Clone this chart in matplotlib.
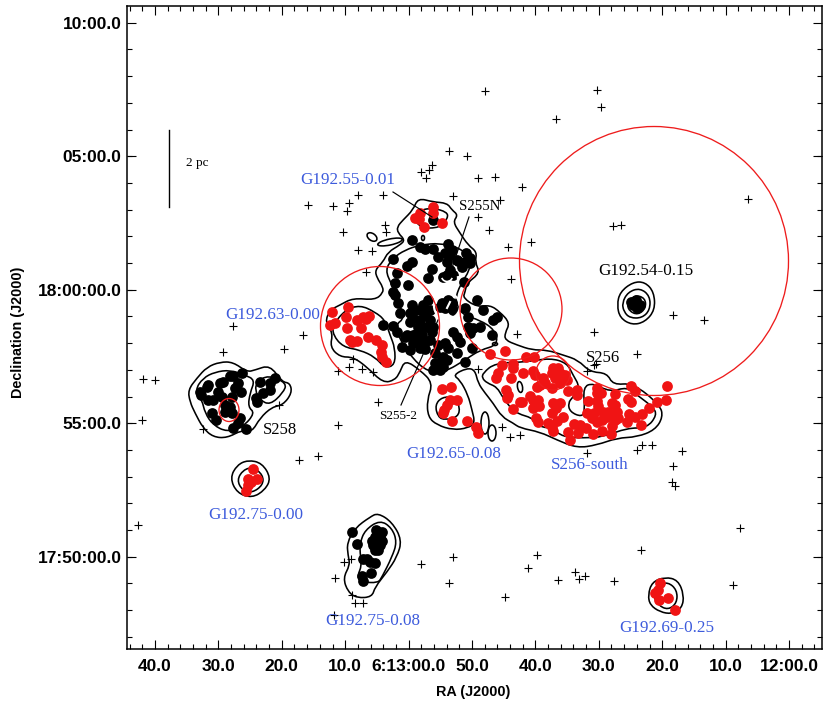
import numpy as np
import matplotlib
matplotlib.use("Agg")
import matplotlib.pyplot as plt
from matplotlib.patches import Circle, Ellipse, Arc, PathPatch
from matplotlib.path import Path

# Positions are map coordinates (image columns / rows of the sky map).
ra_tick_pos = [155, 218.4, 281.8, 345.2, 408.6, 472, 535.4, 598.8, 662.2, 725.6, 789]
ra_tick_labels = ["40.0", "30.0", "20.0", "10.0", "6:13:00.0", "50.0", "40.0", "30.0", "20.0", "10.0", "12:00.0"]
dec_tick_pos = [22.7, 156, 289.5, 423, 556.5]
dec_tick_labels = ["10:00.0", "05:00.0", "18:00:00.0", "55:00.0", "17:50:00.0"]

black_central = [(412,240),(420,247),(425,249),(433,249),(448,244),(438,257),(450,255),(447,262),(466,253),(458,261),
 (470,263),(462,267),(412,262),(407,266),(393,259),(397,273),(432,269),(428,278),(408,285),(395,283),(393,292),(395,295),
 (412,305),(398,303),(410,313),(400,313),(410,322),(420,310),(425,315),(420,320),(430,320),(427,327),(418,327),(417,333),
 (422,335),(413,343),(418,340),(407,335),(393,326),(397,332),(405,337),(383,325),(402,347),(425,349),(433,327),(477,300),
 (483,310),(465,308),(468,317),(497,317),(493,320),(492,335),(480,327),(473,328),(468,327),(470,333),(453,332),(457,337),
 (460,342),(445,343),(448,348),(438,345),(435,353),(443,357),(457,353),(435,363),(443,367),(433,370),(465,362),(472,348),
 (450,270),(447,275),(443,277),(453,275),(442,303),(445,308),(452,303),(440,307),(453,310),(448,300),(464,282),(428,300),
 (433,220),(415,310),(423,305),(430,310),(413,318),(423,327),(432,332),(413,335),(425,342),(430,340),(420,348),(410,350),
 (440,362),(447,360),(440,370),(445,253),(452,250),(457,260),(465,262),(470,258)]
black_s258 = [(200,392),(201,395),(208,385),(207,387),(208,400),(213,400),(220,383),(223,382),(218,392),(222,397),(230,376),
 (233,376),(242,373),(238,383),(235,388),(241,392),(232,397),(225,405),(230,407),(225,412),(232,413),(212,413),(216,420),
 (240,418),(238,423),(233,428),(246,429),(256,398),(257,402),(260,382),(263,393),(270,390),(270,383),(275,378)]
black_g19275_008 = [(352,532),(357,544),(378,532),(380,537),(375,537),(372,541),(380,545),(375,550),(378,550),(367,559),
 (375,563),(371,573),(362,576),(363,581),(382,532),(373,545),(382,541),(376,530),(363,559),(370,562)]
black_g19254 = [(636,300),(640,305),(633,305),(637,308),(631,302)]

red_s256 = [(490,354),(505,351),(526,357),(534,357),(502,365),(513,364),(513,368),(498,373),(496,378),(511,378),(523,373),
 (533,371),(535,375),(553,368),(558,368),(552,373),(560,373),(565,375),(555,378),(567,380),(543,378),(545,383),(540,385),
 (537,387),(552,388),(560,383),(568,391),(577,390),(577,395),(506,390),(508,395),(507,398),(530,396),(533,400),(538,400),
 (522,402),(520,402),(513,409),(533,408),(539,406),(553,403),(560,403),(556,408),(552,413),(536,418),(538,422),(548,423),
 (557,421),(563,417),(552,427),(553,431),(568,432),(574,424),(580,425),(578,433),(586,428),(593,434),(602,431),(611,434),
 (570,440),(588,401),(597,401),(597,388),(597,393),(601,393),(587,413),(594,413),(598,406),(603,412),(608,412),(612,403),
 (615,405),(617,412),(613,415),(615,420),(612,426),(618,418),(627,422),(629,414),(635,417),(642,414),(641,425),(649,408),
 (657,402),(666,400),(667,386),(631,386),(635,391),(628,399),(631,402),(615,394),(607,417),(597,422),(592,418),(602,420)]
red_g19263 = [(332,312),(348,307),(330,325),(335,323),(346,317),(347,328),(357,320),(363,317),(369,316),(366,319),(361,328),
 (350,340),(352,342),(357,341),(368,337),(376,340),(382,345),(381,352),(382,357),(386,362)]
red_g19255 = [(433,207),(433,213),(420,213),(415,218),(419,219),(424,227),(442,223)]
red_g19265 = [(442,389),(451,387),(450,400),(457,400),(447,405),(444,410),(443,413),(452,421),(467,421),(476,427),(478,433)]
red_g19275_000 = [(253,469),(257,479),(248,479),(248,485),(246,491),(251,482)]
red_g19269 = [(660,583),(658,590),(655,593),(659,600),(668,598),(675,610)]

crosses = [(485,91),(597,90),(601,107),(556,119),(449,151),(432,165),(429,170),(421,172),(426,178),(467,156),(478,178),
 (495,177),(522,187),(748,199),(308,205),(358,195),(383,195),(453,196),(500,200),(333,206),(349,203),(347,211),(385,225),
 (386,232),(343,232),(478,217),(489,230),(358,250),(372,251),(508,247),(511,279),(366,272),(517,334),(353,359),(338,371),
 (349,367),(362,369),(373,372),(478,369),(531,242),(613,226),(621,225),(594,332),(673,315),(704,320),(594,365),(637,354),
 (233,326),(223,352),(284,349),(303,335),(143,379),(155,380),(142,420),(203,429),(279,405),(338,425),(318,456),(299,460),
 (138,525),(378,402),(682,451),(673,466),(672,482),(675,486),(740,528),(641,550),(537,555),(528,568),(558,580),(575,572),
 (579,579),(585,576),(614,581),(733,585),(505,597),(453,557),(449,583),(421,564),(335,578),(344,562),(351,559),(334,615),
 (352,595),(355,603),(363,603),(510,437),(520,435),(637,450),(642,445),(652,445),(587,453),(596,364),(587,371),(502,427)]

contour_main = [(397,227),(403,220),(413,210),(418,198),(433,202),(447,203),(452,210),(458,215),(453,222),(460,233),(468,245),
 (477,252),(475,262),(480,273),(467,283),(465,292),(463,298),(477,307),(490,305),(500,312),(510,323),(505,333),(505,340),
 (517,345),(532,350),(547,350),(563,355),(578,360),(590,372),(607,373),(613,385),(633,383),(660,405),(663,417),(655,430),
 (637,437),(617,438),(597,445),(577,448),(557,440),(540,432),(520,428),(513,423),(502,417),(493,403),(485,393),(478,383),
 (475,370),(467,368),(453,375),(460,380),(468,395),(472,410),(475,423),(468,428),(453,430),(437,425),(428,417),(427,400),
 (433,383),(420,370),(405,360),(400,372),(395,380),(383,383),(367,367),(353,357),(340,357),(330,347),(333,333),(325,322),
 (330,310),(340,305),(353,298),(375,300),(383,293),(383,287),(377,278),(375,270),(383,262),(388,252),(400,245),(405,240),
 (398,233)]
contour_central_in = [(393,258),(405,250),(420,245),(440,243),(460,248),(470,258),(470,270),(460,285),(455,300),(462,315),
 (480,320),(495,330),(498,345),(480,350),(465,360),(445,372),(428,372),(412,358),(400,340),(395,325),(405,318),(397,300),
 (392,285),(385,270)]
contour_g19255_in = [(415,218),(420,210),(433,208),(447,212),(448,218),(440,228),(420,228)]
contour_g19263_in = [(333,325),(345,310),(360,305),(375,312),(385,320),(390,335),(395,348),(395,365),(385,368),(375,357),
 (360,350),(343,347),(333,335)]
contour_g19265_in = [(442,397),(435,405),(438,417),(445,420),(458,417),(460,407),(455,397)]
contour_s256_in = [(483,373),(495,363),(527,362),(550,358),(567,363),(573,375),(580,387),(573,397),(568,403),(570,412),(582,417),
 (585,410),(583,387),(593,383),(610,392),(627,387),(637,395),(653,407),(657,415),(647,428),(627,428),(603,437),(583,438),
 (563,437),(552,428),(540,427),(533,418),(515,413),(503,398),(497,387),(487,383),(482,378)]
contour_s258_out = [(188,390),(197,378),(207,367),(220,362),(233,362),(247,372),(255,370),(270,365),(282,382),(290,383),(292,393),
 (283,405),(272,407),(260,418),(252,432),(242,430),(227,438),(213,437),(203,428),(195,413),(190,402)]
contour_s258_in = [(195,390),(203,378),(215,372),(230,370),(245,375),(255,380),(250,393),(248,407),(255,413),(243,427),(227,432),
 (213,425),(205,413),(202,400)]
contour_s258_e = [(257,382),(268,375),(287,383),(283,393),(270,405),(260,400),(255,390)]
contour_g19275a_out = [(230,478),(237,465),(248,460),(262,463),(271,478),(265,490),(252,498),(237,493)]
contour_g19275a_in = [(237,480),(243,470),(253,467),(263,475),(263,485),(252,493),(242,490)]
contour_g19275b_out = [(347,543),(355,528),(370,517),(378,513),(392,522),(402,540),(397,557),(387,572),(375,587),(372,597),
 (357,598),(348,592),(343,578),(350,565),(348,555)]
contour_g19275b_in = [(360,543),(365,530),(380,520),(392,528),(397,542),(392,557),(382,577),(378,583),(362,582),(357,577),
 (362,565),(360,553)]
contour_g19269_out = [(648,595),(652,582),(665,577),(678,580),(684,595),(682,608),(672,614),(660,612),(650,605)]
contour_g19269_in = [(653,595),(658,585),(668,582),(677,590),(677,603),(668,610),(658,605)]
contour_g19254_out = [(617,305),(620,292),(633,282),(645,282),(654,292),(655,310),(645,322),(632,325),(620,318)]
contour_g19254_mid = [(622,303),(628,292),(640,288),(650,296),(650,310),(642,318),(630,318),(624,312)]
contour_g19254_in = [(627,303),(635,295),(645,298),(646,308),(638,315),(629,311)]
contours = [contour_main, contour_central_in, contour_g19255_in, contour_g19263_in, contour_g19265_in, contour_s256_in,
            contour_s258_out, contour_s258_in, contour_s258_e, contour_g19275a_out, contour_g19275a_in,
            contour_g19275b_out, contour_g19275b_in, contour_g19269_out, contour_g19269_in,
            contour_g19254_out, contour_g19254_mid, contour_g19254_in]
# small closed contours: x, y, width, height, angle
small_loops = [(520,387,5,11,-10),(485,423,8,22,0),(492,433,8,16,0),(372,237,11,7,35),(390,242,25,6,-12),(423,238,3,5,0),(495,344,5,3,0)]
# red regions: x, y, radius
regions = [(654,261,134.5),(511,309,51),(380,326,59.5),(553,373,17)]
region_s258 = (229,410,20,23)

labels_blue = [("G192.55-0.01",300,180),("G192.63-0.00",225,315),("G192.65-0.08",406,454),("S256-south",551,465),
               ("G192.75-0.00",208,515),("G192.75-0.08",325,621),("G192.69-0.25",619,628)]
labels_black = [("S255N",459,206,10.6),("G192.54-0.15",598,271,12.3),("S256",586,358,12),("S255-2",379,416,9.5),
                ("S258",263,430,12),("2 pc",186,163,9.5)]
leaders = [((393,192),(432,217)),((469,217),(452,268)),((438,320),(401,405))]
scale_bar = ((169,130),(169,207))

SANS = "Liberation Sans"
SERIF = "Liberation Serif"
fig = plt.figure(figsize=(8.3, 7.03), dpi=100)
ax = fig.add_axes([127/830, 1-649/703, (822-127)/830, (649-6)/703])
ax.set_xlim(127, 822)
ax.set_ylim(649, 6)

LW = 1.15


def closed_curve(points):
    """Closed quadratic-Bezier path with the read points as control points."""
    p = np.array(points, dtype=float)
    mid = (p + np.roll(p, -1, axis=0)) / 2
    verts = [mid[-1]]
    codes = [Path.MOVETO]
    for ctrl, end in zip(p, mid):
        verts += [ctrl, end]
        codes += [Path.CURVE3, Path.CURVE3]
    return Path(verts, codes)


for c in contours:
    ax.add_patch(PathPatch(closed_curve(c), fill=False, ec="black", lw=LW, zorder=2))
for x, y, w, h, ang in small_loops:
    ax.add_patch(Ellipse((x,y), w, h, angle=ang, fill=False, ec="black", lw=LW, zorder=2))

for group, col in [(black_central,"black"),(black_s258,"black"),(black_g19275_008,"black"),(black_g19254,"black"),
                   (red_s256,"#f01414"),(red_g19263,"#f01414"),(red_g19255,"#f01414"),(red_g19265,"#f01414"),
                   (red_g19275_000,"#f01414"),(red_g19269,"#f01414")]:
    a = np.array(group)
    ax.scatter(a[:,0], a[:,1], s=60, c=col, linewidths=0, zorder=3)

# bright peaks of S255N and S255-2, drawn white on the black dots
ax.add_patch(Circle((447,306), 13, fill=False, ec="white", lw=1.6, zorder=4))
ax.add_patch(Arc((447,278), 22, 22, theta1=-10, theta2=190, ec="white", lw=1.6, zorder=4))
ax.plot([450,447],[302,308], color="white", lw=1.5, zorder=4)
ax.add_patch(Arc((447,276), 11, 11, theta1=20, theta2=160, ec="white", lw=1.2, zorder=4))

a = np.array(crosses)
ax.plot(a[:,0], a[:,1], ls="none", marker="+", ms=5.5, mew=0.8, color="black", zorder=5)

for x, y, r in regions:
    ax.add_patch(Circle((x,y), r, fill=False, ec="#ee1c1c", lw=0.95, zorder=6))
ax.add_patch(Ellipse(region_s258[:2], region_s258[2], region_s258[3], fill=False, ec="#ee1c1c", lw=0.95, zorder=6))

for p, q in leaders:
    ax.plot([p[0],q[0]],[p[1],q[1]], color="black", lw=0.85, zorder=5)
ax.plot([scale_bar[0][0],scale_bar[1][0]],[scale_bar[0][1],scale_bar[1][1]], color="black", lw=1.0, zorder=5)

for t, x, y in labels_blue:
    ax.text(x, y, t, color="#3d5bdc", family=SERIF, fontsize=12.3, ha="left", va="center", zorder=7)
for t, x, y, fs in labels_black:
    ax.text(x, y, t, color="black", family=SERIF, fontsize=fs, ha="left", va="center", zorder=7)

ax.set_xticks(ra_tick_pos)
ax.set_xticklabels(ra_tick_labels)
ax.set_yticks(dec_tick_pos)
ax.set_yticklabels(dec_tick_labels)
ax.set_xticks(np.arange(155-2*12.68, 822, 12.68), minor=True)
ax.set_yticks(np.arange(22.7, 649, 26.7), minor=True)
ax.tick_params(which="major", direction="in", length=6.5, width=0.8, top=True, right=True, pad=4)
ax.tick_params(which="minor", direction="in", length=3.6, width=0.8, top=True, right=True)
ax.tick_params(axis="x", which="major", pad=7)
for lab in ax.get_xticklabels() + ax.get_yticklabels():
    lab.set_family(SANS); lab.set_fontweight("bold"); lab.set_fontsize(12.5)
for s in ax.spines.values():
    s.set_linewidth(1.1)

fig.text(473/830, 1-692/703, "RA (J2000)", family=SANS, fontweight="bold", fontsize=10.4, ha="center", va="center")
fig.text(18/830, 1-332/703, "Declination (J2000)", family=SANS, fontweight="bold", fontsize=10.4, rotation=90, ha="center", va="center")

fig.savefig("out.png", dpi=100)
